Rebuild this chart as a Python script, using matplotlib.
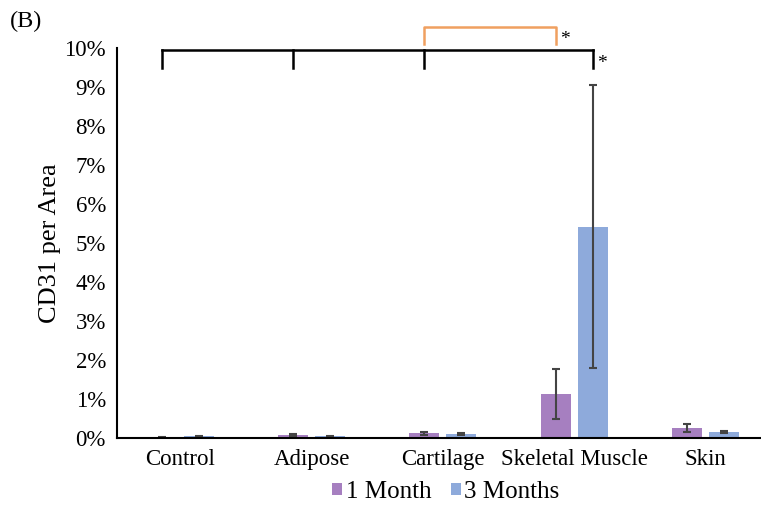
import matplotlib
matplotlib.use("Agg")
import matplotlib.pyplot as plt
import numpy as np
from matplotlib.ticker import FuncFormatter

plt.rcParams['font.family'] = ['Liberation Serif', 'DejaVu Serif']

categories = ["Control", "Adipose", "Cartilage", "Skeletal Muscle", "Skin"]
one_month = [0.01, 0.08, 0.12, 1.13, 0.26]
one_month_err = [0.01, 0.02, 0.04, 0.64, 0.10]
three_months = [0.04, 0.04, 0.10, 5.42, 0.15]
three_months_err = [0.02, 0.02, 0.02, 3.62, 0.02]
series_names = ["1 Month", "3 Months"]
colors = ["#a67fc0", "#8eaadb"]

W, H = 761, 508
fig = plt.figure(figsize=(W / 100, H / 100), dpi=100)
ax = fig.add_axes([117 / W, 1 - 438 / H, (774 - 117) / W, (438 - 48) / H])

x = np.arange(len(categories))
bw = 0.228
off = 0.141
ekw = dict(ecolor="#444444", elinewidth=1.5, capsize=3, capthick=1.5)
ax.bar(x - off, one_month, bw, color=colors[0], label=series_names[0],
       yerr=one_month_err, error_kw=ekw)
ax.bar(x + off, three_months, bw, color=colors[1], label=series_names[1],
       yerr=three_months_err, error_kw=ekw)

ax.set_xlim(-0.48, len(categories) - 0.48)
ax.set_ylim(0, 10)
ax.set_yticks(np.arange(0, 11, 1))
ax.yaxis.set_major_formatter(FuncFormatter(lambda v, p: f"{int(round(v))}%"))
ax.set_xticks(x)
ax.set_xticklabels(categories)
ax.tick_params(axis="both", length=0, labelsize=16.5)
ax.tick_params(axis="y", pad=8)
ax.tick_params(axis="x", pad=8)
for s in ["top", "right"]:
    ax.spines[s].set_visible(False)
ax.spines["left"].set_linewidth(1.5)
ax.spines["bottom"].set_linewidth(1.5)
ax.set_ylabel("CD31 per Area", fontsize=19, labelpad=2)

# significance brackets
bx = [0 - off, 1 - off, 2 - off, 3 + off]
ax.plot([bx[0], bx[-1]], [9.95, 9.95], color="black", lw=1.8, clip_on=False)
for b in bx:
    ax.plot([b, b], [9.95, 9.5], color="black", lw=1.8, clip_on=False)
ax.text(3 + off + 0.03, 9.5, "*", fontsize=14, clip_on=False)

ax.plot([2 - off, 2 - off, 3 - off, 3 - off], [10.1, 10.54, 10.54, 10.1],
        color="#f0a060", lw=1.8, clip_on=False)
ax.text(3 - off + 0.03, 10.1, "*", fontsize=14, clip_on=False)

fig.text(10 / W, 1 - 21 / H, "(B)", fontsize=17.5, va="center", ha="left")

leg = fig.legend(loc="center", bbox_to_anchor=(446 / W, 1 - 492 / H), ncol=2, frameon=False,
                 fontsize=18, handlelength=0.38, handleheight=0.38, handletextpad=0.15,
                 columnspacing=0.8)

fig.savefig("out.png", dpi=100)
